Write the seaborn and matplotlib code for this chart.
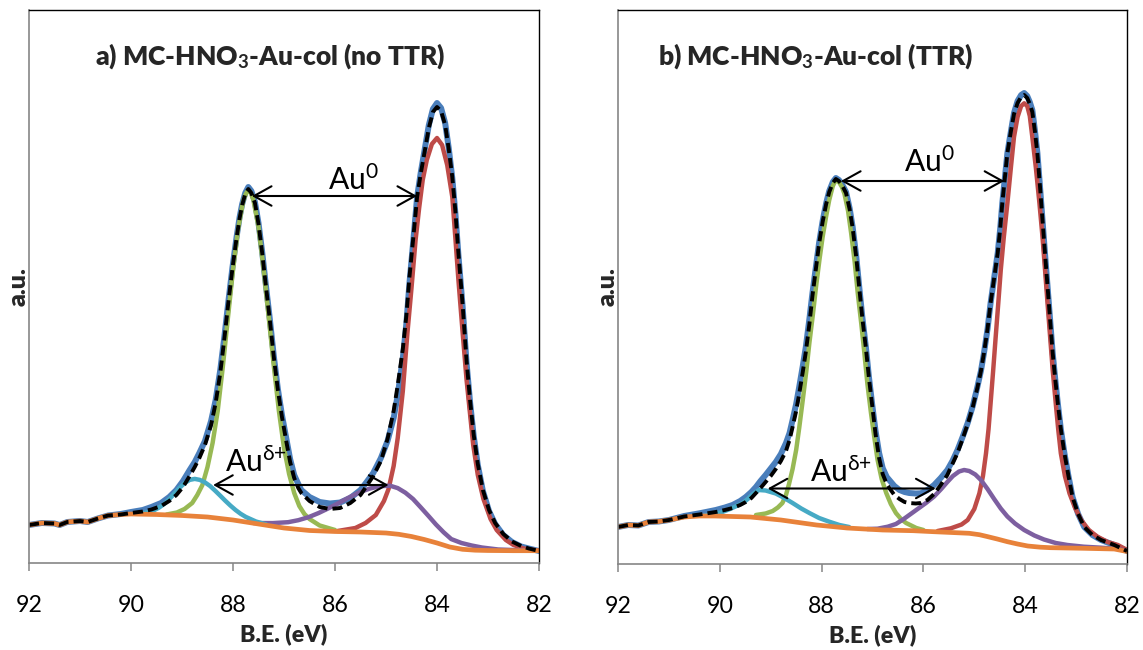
import matplotlib
matplotlib.use("Agg")
import matplotlib.pyplot as plt
import seaborn as sns

# ---------------- data (binding energy in eV, intensity in a.u.) ----------------
# Panel a: MC-HNO3-Au-col (no TTR)
a_raw_E = [92.0, 91.75, 91.5, 91.4, 91.25, 91.0, 90.85, 90.65, 90.45, 90.2,
           90.0, 89.77, 89.6, 89.41, 89.25, 89.11, 88.98, 88.85, 88.75, 88.66,
           88.55, 88.43, 88.34, 88.25, 88.17, 88.09, 88.01, 87.93, 87.87, 87.82,
           87.76, 87.7, 87.64, 87.57, 87.5, 87.43, 87.36, 87.28, 87.2, 87.12,
           87.04, 86.96, 86.88, 86.8, 86.72, 86.66, 86.5, 86.3, 86.1, 85.9,
           85.7, 85.5, 85.38, 85.25, 85.1, 84.97, 84.85, 84.77, 84.67, 84.6,
           84.54, 84.46, 84.39, 84.32, 84.24, 84.16, 84.08, 84.0, 83.92, 83.84,
           83.77, 83.7, 83.64, 83.58, 83.5, 83.42, 83.35, 83.28, 83.2, 83.1,
           82.98, 82.86, 82.7, 82.53, 82.35, 82.2, 82.0]
a_raw_I = [38, 40, 39.5, 38, 41, 42, 41, 44.5, 47.5, 49,
           51, 53, 56, 60, 66, 73, 82, 93, 101, 110,
           122, 142, 163, 193, 226, 262, 296, 326, 346, 359,
           370, 376, 372, 361, 340, 312, 280, 245, 207, 174,
           148, 126, 104, 88, 79, 73, 66, 61, 59.5, 60.5,
           65, 73, 81, 90, 105, 122, 145, 168, 205, 240,
           280, 325, 366, 390, 414, 438, 454, 460, 455, 440,
           415, 385, 350, 308, 258, 200, 160, 127, 98, 72,
           52, 39, 28, 21, 16.5, 14.5, 12]
a_fit_E = a_raw_E
a_fit_I = [38, 40, 39.5, 38, 41, 42, 41, 44.5, 47.5, 48.5,
           50, 51.5, 53.5, 57, 62, 68, 76, 87, 96, 105,
           118, 138, 160, 190, 224, 261, 295, 325, 345, 358,
           369, 374, 370, 360, 339, 311, 279, 244, 206, 173,
           146, 123, 101, 85, 75, 70, 62, 56, 54, 55,
           60, 68, 77, 87, 102, 124, 152, 178, 214, 248,
           286, 328, 366, 389, 412, 435, 451, 456, 452, 438,
           414, 386, 352, 310, 260, 202, 162, 128, 99, 73,
           53, 40, 29, 21.5, 17, 14.5, 12]
a_au0_52_E = [89.3, 89.1, 88.95, 88.8, 88.7, 88.6, 88.5, 88.4, 88.3, 88.2,
              88.1, 88.0, 87.9, 87.8, 87.75, 87.7, 87.65, 87.6, 87.5, 87.4,
              87.3, 87.2, 87.1, 87.0, 86.9, 86.8, 86.7, 86.6, 86.5, 86.3, 86.0]
a_au0_52_I = [48.5, 50.5, 54, 60, 68, 78, 96, 120, 152, 196,
              245, 293, 334, 362, 369, 373, 370, 363, 336, 294,
              246, 197, 152, 115, 89, 70, 57, 49, 44, 37.5, 33]
a_au0_72_E = [85.95, 85.6, 85.4, 85.2, 85.04, 84.95, 84.85, 84.77, 84.67, 84.58,
              84.5, 84.42, 84.35, 84.28, 84.2, 84.1, 84.0, 83.9, 83.8, 83.7,
              83.64, 83.58, 83.5, 83.42, 83.35, 83.29, 83.2, 83.09, 82.95, 82.83,
              82.65, 82.5, 82.3, 82.0]
a_au0_72_I = [32, 35, 40, 48, 62, 74, 97, 125, 172, 230,
              275, 323, 355, 383, 403, 419, 425, 418, 398, 366,
              325, 283, 232, 183, 148, 118, 88, 64, 44, 33,
              23, 18, 14.5, 12.3]
a_aud_52_E = [89.95, 89.75, 89.55, 89.45, 89.35, 89.25, 89.15, 89.05, 88.95, 88.85,
              88.75, 88.65, 88.55, 88.45, 88.35, 88.25, 88.15, 88.05, 87.95, 87.85,
              87.75, 87.55, 87.35]
a_aud_52_I = [49.2, 50, 52.7, 55.4, 59, 63.8, 69.4, 75, 79.9, 83.1,
              84.1, 83.1, 80.6, 77, 72.3, 67.3, 62.2, 57.4, 53, 49.2,
              46.1, 41.5, 38.6]
a_aud_72_E = [87.6, 87.22, 86.92, 86.72, 86.52, 86.32, 86.12, 85.92, 85.72, 85.52,
              85.32, 85.12, 84.92, 84.77, 84.62, 84.47, 84.32, 84.17, 84.02, 83.87,
              83.72, 83.52, 83.32, 83.12, 82.8, 82.4, 82.0]
a_aud_72_I = [40, 39.9, 40.8, 42.8, 45.8, 50, 54.9, 60.2, 65.7, 70.7,
              74.4, 76.8, 77.3, 74.9, 70.3, 64, 55.7, 47.2, 38.5, 30.7,
              23.9, 20, 17.5, 15.5, 13.5, 12.8, 12.3]
a_bg_E = [92.0, 91.75, 91.5, 91.4, 91.25, 91.0, 90.85, 90.65, 90.45, 90.2,
          90.0, 89.5, 89.0, 88.5, 88.0, 87.5, 87.0, 86.5, 86.0, 85.5,
          85.0, 84.75, 84.5, 84.25, 84.0, 83.75, 83.5, 83.25, 83.0, 82.5, 82.0]
a_bg_I = [38, 40, 39.5, 38, 41, 42, 41, 44.5, 47.5, 48.5,
          49, 48.5, 47.5, 46, 43, 39, 35, 32.5, 31.5, 31,
          30, 28.7, 26.5, 23.5, 20, 16, 13.7, 12.8, 12.5, 12.3, 12.3]

# Panel b: MC-HNO3-Au-col (TTR)
b_raw_E = [92.0, 91.8, 91.6, 91.4, 91.2, 91.0, 90.7, 90.4, 90.08, 89.9,
           89.75, 89.6, 89.49, 89.38, 89.29, 89.2, 89.1, 89.0, 88.9, 88.8,
           88.7, 88.63, 88.57, 88.5, 88.44, 88.37, 88.31, 88.24, 88.18, 88.11,
           88.05, 87.98, 87.91, 87.85, 87.78, 87.72, 87.66, 87.6, 87.52, 87.45,
           87.39, 87.32, 87.26, 87.2, 87.13, 87.07, 87.0, 86.94, 86.87, 86.8,
           86.72, 86.67, 86.57, 86.47, 86.37, 86.28, 86.15, 86.05, 85.92, 85.79,
           85.66, 85.53, 85.43, 85.33, 85.23, 85.13, 85.03, 84.94, 84.87, 84.81,
           84.74, 84.68, 84.61, 84.54, 84.49, 84.45, 84.4, 84.35, 84.28, 84.22,
           84.15, 84.08, 84.02, 83.96, 83.91, 83.86, 83.81, 83.76, 83.71, 83.66,
           83.61, 83.56, 83.51, 83.46, 83.41, 83.36, 83.3, 83.23, 83.15, 83.07,
           82.96, 82.84, 82.68, 82.51, 82.25, 82.0]
b_raw_I = [37, 39, 38.5, 42, 42.5, 44, 48, 50.7, 54, 56.5,
           59, 63, 67, 72, 77, 83, 89, 95.5, 102, 110,
           121, 131, 144, 160, 177, 198, 217, 245, 271, 298,
           321, 343, 361, 373, 382, 386, 384, 380, 372, 356,
           337, 308, 277, 247, 217, 187, 157, 133, 111, 96,
           87, 84, 78, 74, 72, 71, 70.5, 70.7, 74, 79,
           86, 94, 103, 114, 127, 141, 158, 177, 193, 211,
           235, 261, 286, 311, 336, 361, 386, 411, 433, 451,
           463, 469, 471, 468, 462, 454, 434, 411, 378, 344,
           310, 277, 244, 211, 185, 161, 135, 111, 88, 67,
           50, 37, 29, 24, 19, 13]
b_fit_E = b_raw_E
b_fit_I = [37, 39, 38.5, 42, 42.5, 44, 47.5, 49.5, 52, 54,
           56, 59, 62, 66, 71, 76, 82, 88, 95, 103,
           113, 124, 137, 153, 170, 192, 212, 240, 268, 296,
           320, 342, 360, 372, 381, 385, 383, 379, 371, 355,
           336, 307, 276, 246, 216, 186, 156, 130, 106, 90,
           80, 76, 69, 65, 62, 61, 60.5, 61, 64, 70,
           79, 89, 100, 111, 125, 140, 157, 176, 193, 211,
           235, 261, 286, 311, 336, 361, 386, 411, 433, 450,
           461, 467, 469, 466, 460, 452, 433, 410, 378, 344,
           310, 277, 244, 211, 185, 161, 135, 111, 88, 67,
           50, 37, 29, 24, 19, 13]
b_au0_52_E = [89.29, 89.1, 88.96, 88.86, 88.77, 88.7, 88.64, 88.57, 88.5, 88.44,
              88.37, 88.3, 88.24, 88.17, 88.11, 88.04, 87.98, 87.91, 87.85, 87.78,
              87.72, 87.66, 87.6, 87.55, 87.48, 87.42, 87.35, 87.29, 87.22, 87.16,
              87.1, 87.03, 86.96, 86.9, 86.82, 86.73, 86.64, 86.54, 86.44, 86.34,
              86.14, 86.0]
b_au0_52_I = [49, 50.5, 53, 56.5, 61, 69, 80, 95, 114, 136,
              164, 193, 221, 250, 277, 305, 327, 348, 364, 378,
              384, 382, 377, 370, 353, 331, 302, 271, 240, 211,
              180, 151, 125, 104, 85, 71, 60, 51, 45, 41,
              36, 34]
b_au0_72_E = [85.72, 85.46, 85.25, 85.13, 85.0, 84.9, 84.83, 84.77, 84.72, 84.68,
              84.63, 84.58, 84.53, 84.48, 84.42, 84.35, 84.28, 84.22, 84.15, 84.08,
              84.02, 83.96, 83.91, 83.86, 83.79, 83.72, 83.66, 83.61, 83.56, 83.51,
              83.46, 83.4, 83.35, 83.3, 83.22, 83.13, 83.02, 82.9, 82.75, 82.58,
              82.38, 82.18, 82.0]
b_au0_72_I = [33, 35.7, 39.5, 44, 55, 70.7, 88, 110.7, 135, 160.7,
              193, 227, 260, 294, 327, 360.7, 397, 427, 447, 458,
              460.7, 458, 448, 427, 396, 360.7, 327, 294, 260, 227,
              194, 160.7, 134, 110.7, 88, 70.7, 56, 44, 34, 27.3,
              22, 19, 14]
b_aud_52_E = [90.3, 90.1, 89.95, 89.8, 89.65, 89.55, 89.45, 89.35, 89.23, 89.1,
              89.0, 88.9, 88.75, 88.57, 88.4, 88.24, 88.05, 87.85, 87.65, 87.46]
b_aud_52_I = [48.5, 50, 52, 55, 58.5, 61, 65, 70, 74, 73.5,
              72, 70.5, 66.5, 61, 55.5, 51, 46, 42.3, 39, 37]
b_aud_72_E = [87.1, 86.9, 86.7, 86.54, 86.4, 86.25, 86.1, 85.95, 85.79, 85.65,
              85.53, 85.42, 85.3, 85.2, 85.1, 84.98, 84.87, 84.74, 84.61, 84.48,
              84.35, 84.2, 84.02, 83.82, 83.63, 83.4, 83.17, 82.85, 82.51, 82.2, 82.0]
b_aud_72_I = [35, 35.3, 37.3, 40, 44.5, 50, 55.5, 61, 67.5, 75,
              82, 88, 92.5, 94, 93, 89.5, 84, 75, 65, 55.5,
              47.5, 40.5, 34, 28.5, 24.5, 21, 19, 17.3, 16.3, 15.2, 13]
b_bg_E = [92.0, 91.8, 91.6, 91.4, 91.2, 91.0, 90.7, 90.4, 90.1, 89.4,
          88.8, 88.1, 87.5, 86.8, 86.2, 85.8, 85.1, 84.9, 84.75, 84.55,
          84.35, 84.15, 83.95, 83.7, 83.5, 82.85, 82.25, 82.0]
b_bg_I = [37, 39, 38.5, 42, 42.5, 44, 47, 48, 48, 47,
          44, 39, 36, 34, 33.3, 32.3, 30.7, 29.3, 27.5, 25,
          22.3, 20, 18, 16.8, 16.3, 15.7, 15, 12.5]

titles = ["a) MC-HNO$_{\\mathbf{3}}$-Au-col (no TTR)", "b) MC-HNO$_{\\mathbf{3}}$-Au-col (TTR)"]
x_ticks = [92, 90, 88, 86, 84, 82]
x_label = "B.E. (eV)"
y_label = "a.u."
# doublet separation arrows: (E_left, E_right, level, label, label_E, label_level)
a_arrows = [(87.63, 84.39, 367, "Au$^{\\mathregular{0}}$", 86.14, 373),
            (88.39, 84.95, 78, "Au$^{\\mathregular{\u03b4{+}}}$", 88.16, 91)]
b_arrows = [(87.62, 84.41, 383, "Au$^{\\mathregular{0}}$", 86.39, 392),
            (89.06, 85.76, 75.5, "Au$^{\\mathregular{\u03b4{+}}}$", 88.23, 82)]

# ---------------- style ----------------
sns.set_theme(style="white")
plt.rcParams["font.family"] = ["Lato", "DejaVu Sans"]
plt.rcParams["mathtext.fontset"] = "custom"
plt.rcParams["mathtext.rm"] = "Lato"
plt.rcParams["mathtext.it"] = "Lato:italic"
plt.rcParams["mathtext.bf"] = "Lato:bold"

C_BLUE, C_RED, C_GREEN = "#4A7EBB", "#BE4B48", "#98B954"
C_PURPLE, C_CYAN, C_ORANGE = "#7D5FA0", "#46AAC5", "#E8823A"
GRAY = "#868686"

fig = plt.figure(figsize=(11.43, 6.5), dpi=100)
W, H = 1143, 650
axA = fig.add_axes([29 / W, 1 - 563 / H, 510 / W, 553 / H])
axB = fig.add_axes([618 / W, 1 - 564 / H, 509 / W, 554 / H])

panels = [
    (axA, a_raw_E, a_raw_I, a_fit_E, a_fit_I, a_au0_52_E, a_au0_52_I, a_au0_72_E, a_au0_72_I,
     a_aud_52_E, a_aud_52_I, a_aud_72_E, a_aud_72_I, a_bg_E, a_bg_I, a_arrows, 553),
    (axB, b_raw_E, b_raw_I, b_fit_E, b_fit_I, b_au0_52_E, b_au0_52_I, b_au0_72_E, b_au0_72_I,
     b_aud_52_E, b_aud_52_I, b_aud_72_E, b_aud_72_I, b_bg_E, b_bg_I, b_arrows, 554),
]


def draw(ax, x, y, color, lw, ls="-"):
    sns.lineplot(x=x, y=y, ax=ax, color=color, linewidth=lw, linestyle=ls,
                 estimator=None, sort=False, legend=False)
    ln = ax.lines[-1]
    ln.set_solid_joinstyle("round")
    ln.set_solid_capstyle("round")
    ln.set_dash_joinstyle("round")
    ln.set_dash_capstyle("butt")


for (ax, rE, rI, fE, fI, g52E, g52I, g72E, g72I, d52E, d52I, d72E, d72I, bE, bI, arrows, ytop) in panels:
    draw(ax, rE, rI, C_BLUE, 4.3)
    draw(ax, g72E, g72I, C_RED, 3.2)
    draw(ax, g52E, g52I, C_GREEN, 3.2)
    draw(ax, d72E, d72I, C_PURPLE, 3.2)
    draw(ax, d52E, d52I, C_CYAN, 3.2)
    draw(ax, bE, bI, C_ORANGE, 3.4)
    draw(ax, fE, fI, "black", 2.8, (0, (2.6, 1.3)))

    ax.set_xlim(92, 82)
    ax.set_ylim(0, ytop)
    ax.set_xticks(x_ticks)
    ax.set_xticklabels([str(t) for t in x_ticks])
    ax.set_yticks([])
    ax.tick_params(axis="x", direction="out", length=6, width=1.1, color=GRAY,
                   labelsize=16.7, pad=17, bottom=True, labelcolor="black")
    for s in ["left", "bottom"]:
        ax.spines[s].set_color(GRAY)
        ax.spines[s].set_linewidth(1.2)
    for s in ["top", "right"]:
        ax.spines[s].set_color("black")
        ax.spines[s].set_linewidth(1.0)
    ax.set_xlabel(x_label, fontsize=16.7, fontweight="heavy")
    ax.xaxis.label.set_verticalalignment("baseline")
    ax.xaxis.set_label_coords(0.5, -78 / 553)
    ax.set_ylabel(y_label, fontsize=18, fontweight="heavy")
    ax.yaxis.label.set_verticalalignment("baseline")
    ax.yaxis.set_label_coords(-3 / 510, 0.5)

    for (e1, e2, lev, txt, tx, ty) in arrows:
        ax.annotate("", xy=(e2, lev), xytext=(e1, lev),
                    arrowprops=dict(arrowstyle="<->,head_length=0.45,head_width=0.25",
                                    mutation_scale=28, lw=1.5, color="black",
                                    shrinkA=0, shrinkB=0))
        ax.text(tx, ty, txt, fontsize=21.6, ha="left", va="baseline", color="black")

fig.text(270.6 / W, 1 - 65 / H, titles[0], ha="center", va="baseline", fontsize=19, fontweight="heavy")
fig.text(815.6 / W, 1 - 65 / H, titles[1], ha="center", va="baseline", fontsize=19, fontweight="heavy")

fig.savefig("out.png", dpi=100)
